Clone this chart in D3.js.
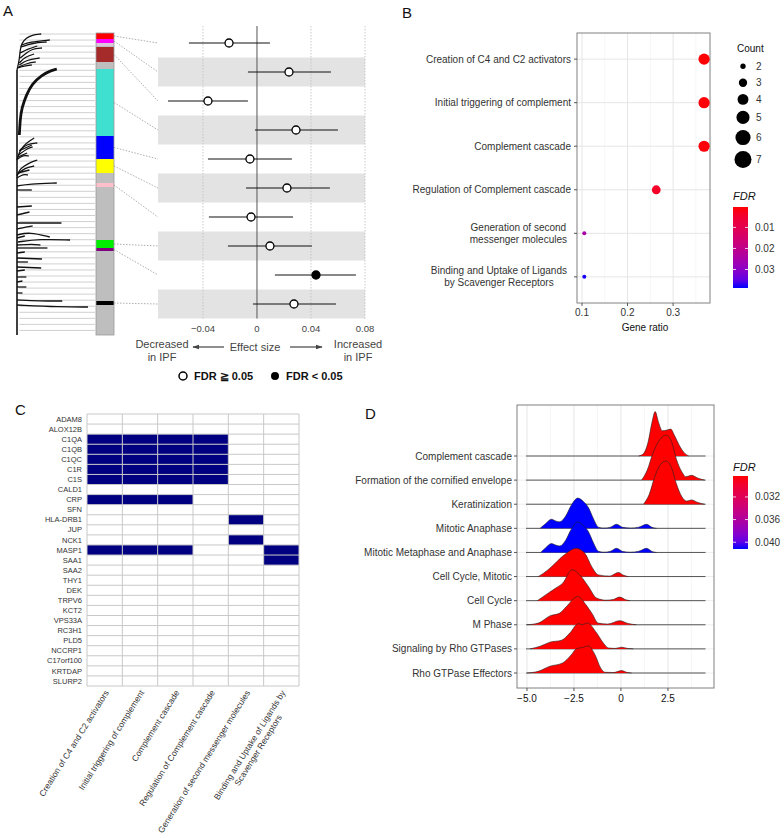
<!DOCTYPE html>
<html>
<head>
<meta charset="utf-8">
<script src="https://cdn.jsdelivr.net/npm/d3@7"></script>
<style>
body { margin: 0; background: #fff; }
svg text { font-family: "Liberation Sans", Arial, sans-serif; }
</style>
</head>
<body>
<svg id="fig" width="784" height="838"></svg>
<script>
// ---------------- data ----------------
// A: WGCNA modules along the dendrogram (size in genes) and forest plot
const moduleColors = ["red", "magenta", "#dcc8dc", "#bebebe", "brown", "#bebebe", "turquoise", "blue", "yellow", "#bebebe", "pink", "#bebebe", "#00ee00", "purple", "#bebebe", "black", "#bebebe"];
const moduleSizes = [6, 4, 3, 1, 15, 7, 67, 23, 14, 10, 4, 53, 8, 3, 50, 4, 30];
const forestModules = [0, 1, 4, 6, 7, 8, 10, 12, 13, 15];
const effectSize = [-0.0207, 0.0237, -0.0363, 0.0289, -0.0052, 0.0222, -0.0044, 0.0096, 0.0437, 0.0274];
const ciLow = [-0.0504, -0.0067, -0.0659, -0.0015, -0.0363, -0.0081, -0.0356, -0.0215, 0.0133, -0.0030];
const ciHigh = [0.0096, 0.0548, -0.0067, 0.0600, 0.0259, 0.0540, 0.0267, 0.0407, 0.0733, 0.0585];
const fdrSignificant = [false, false, false, false, false, false, false, false, true, false];
const forestTicks = [-0.04, 0, 0.04, 0.08];
// dendrogram branches: [height, leaf position]
const branches = [
  [[1.0, 37], [0.97, 27], [0.96, 17], [0.94, 10], [0.88, 5], [0.81, 2], [0.69, 1]],
  [[0.94, 12], [0.84, 9], [0.58, 7]],
  [[0.96, 25], [0.88, 20], [0.81, 16], [0.68, 15]],
  [[0.97, 32], [0.88, 27], [0.71, 25]],
  [[0.99, 35], [0.91, 33], [0.81, 32]],
  [[0.96, 20], [0.86, 16], [0.74, 13]],
  [[0.95, 14], [0.8, 10], [0.62, 9]],
  [[0.97, 30], [0.9, 24], [0.78, 21]],
  [[0.98, 34], [0.86, 30], [0.76, 29]],
  [[1.0, 127], [0.97, 119], [0.92, 113], [0.84, 108], [0.78, 105]],
  [[0.95, 117], [0.81, 112]],
  [[0.99, 124], [0.87, 120]],
  [[0.98, 122], [0.86, 115], [0.8, 114]],
  [[0.97, 118], [0.88, 111], [0.74, 110]],
  [[0.99, 126], [0.92, 122], [0.85, 123]],
  [[1.0, 143], [0.97, 137], [0.91, 133], [0.82, 129], [0.74, 127]],
  [[0.99, 140], [0.84, 137]],
  [[0.99, 141], [0.9, 135], [0.78, 133]],
  [[1.0, 145], [0.92, 141], [0.86, 142]],
  [[1.0, 153], [0.84, 151], [0.49, 150]],
  [[1.0, 157], [0.81, 157]],
  [[1.0, 174], [0.81, 173]],
  [[1.0, 182], [0.84, 179]],
  [[1.0, 190], [0.43, 190]],
  [[1.0, 196], [0.88, 194], [0.8, 193]],
  [[1.0, 202], [0.84, 199], [0.58, 204]],
  [[1.0, 205], [0.9, 203]],
  [[0.99, 209], [0.71, 206], [0.32, 207]],
  [[1.0, 212], [0.8, 211], [0.7, 212]],
  [[1.0, 215], [0.61, 215]],
  [[1.0, 220], [0.9, 219]],
  [[1.0, 225], [0.68, 226]],
  [[1.0, 229], [0.86, 229]],
  [[1.0, 234], [0.69, 235]],
  [[1.0, 238], [0.9, 237]],
  [[1.0, 244], [0.88, 244]],
  [[1.0, 249], [0.93, 248]],
  [[1.0, 254], [0.88, 254]],
  [[1.0, 260], [0.93, 260]],
  [[1.0, 267], [0.71, 268], [0.42, 268]],
  [[1.0, 272], [0.45, 274], [0.09, 274]]
];
const turquoiseBranch = [[0.97, 102], [0.96, 87], [0.94, 75], [0.88, 62], [0.81, 51], [0.68, 42], [0.58, 38], [0.49, 36]];

// B: Reactome enrichment
const pathwaysB = ["Creation of C4 and C2 activators", "Initial triggering of complement", "Complement cascade", "Regulation of Complement cascade", "Generation of second\nmessenger molecules", "Binding and Uptake of Ligands\nby Scavenger Receptors"];
const countB = [7, 7, 7, 5, 2, 2];
const geneRatioB = [0.368, 0.368, 0.368, 0.263, 0.105, 0.105];
const fdrB = [0.0005, 0.0006, 0.0008, 0.004, 0.025, 0.0385];
const countLevels = [2, 3, 4, 5, 6, 7];
const fdrTicksB = [0.01, 0.02, 0.03];

// C: gene membership
const genesC = ["ADAM8", "ALOX12B", "C1QA", "C1QB", "C1QC", "C1R", "C1S", "CALD1", "CRP", "SFN", "HLA-DRB1", "JUP", "NCK1", "MASP1", "SAA1", "SAA2", "THY1", "DEK", "TRPV6", "KCT2", "VPS33A", "RC3H1", "PLD5", "NCCRP1", "C17orf100", "KRTDAP", "SLURP2"];
const pathwaysC = ["Creation of C4 and C2 activators", "Initial triggering of complement", "Complement cascade", "Regulation of Complement cascade", "Generation of second messenger molecules", "Binding and Uptake of Ligands by\nScavenger Receptors"];
const genesC4C2 = ["C1QA", "C1QB", "C1QC", "C1R", "C1S", "CRP", "MASP1"];
const genesInitial = ["C1QA", "C1QB", "C1QC", "C1R", "C1S", "CRP", "MASP1"];
const genesCascade = ["C1QA", "C1QB", "C1QC", "C1R", "C1S", "CRP", "MASP1"];
const genesRegulation = ["C1QA", "C1QB", "C1QC", "C1R", "C1S"];
const genesMessenger = ["HLA-DRB1", "NCK1"];
const genesScavenger = ["MASP1", "SAA1"];

// D: ridge densities [x, density]
const pathwaysD = ["Complement cascade", "Formation of the cornified envelope", "Keratinization", "Mitotic Anaphase", "Mitotic Metaphase and Anaphase", "Cell Cycle, Mitotic", "Cell Cycle", "M Phase", "Signaling by Rho GTPases", "Rho GTPase Effectors"];
const fdrD = [0.0283, 0.0283, 0.0283, 0.0412, 0.0412, 0.0283, 0.0283, 0.0283, 0.0283, 0.0283];
const densitiesD = [
  [[0.95, 0], [1.2, 0.1], [1.45, 0.6], [1.65, 1.4], [1.82, 1.85], [2.0, 1.4], [2.2, 1.05], [2.45, 1.08], [2.65, 1.12], [2.85, 0.85], [3.1, 0.45], [3.35, 0.15], [3.6, 0]],
  [[1.1, 0], [1.4, 0.42], [1.7, 1.12], [2.05, 1.67], [2.4, 1.87], [2.7, 1.58], [2.95, 0.87], [3.25, 0.33], [3.45, 0.14], [3.75, 0.2], [4.1, 0.08], [4.45, 0]],
  [[1.2, 0], [1.5, 0.4], [1.8, 1.15], [2.1, 1.65], [2.4, 1.8], [2.7, 1.5], [2.95, 0.85], [3.25, 0.3], [3.5, 0.13], [3.75, 0.18], [4.1, 0.07], [4.45, 0]],
  [[-4.3, 0], [-4.0, 0.2], [-3.7, 0.38], [-3.45, 0.3], [-3.25, 0.27], [-2.95, 0.5], [-2.65, 0.95], [-2.3, 1.26], [-2.0, 1.12], [-1.74, 0.88], [-1.45, 0.38], [-1.2, 0.05], [-0.9, 0.01], [-0.55, 0.05], [-0.23, 0.17], [0.1, 0.04], [0.5, 0.01], [0.95, 0.05], [1.37, 0.17], [1.65, 0.04], [1.9, 0]],
  [[-4.27, 0], [-4.0, 0.2], [-3.7, 0.37], [-3.45, 0.3], [-3.25, 0.27], [-2.95, 0.5], [-2.65, 0.96], [-2.3, 1.27], [-2.0, 1.12], [-1.74, 0.88], [-1.45, 0.38], [-1.2, 0.05], [-0.9, 0.01], [-0.55, 0.05], [-0.23, 0.17], [0.1, 0.04], [0.5, 0.01], [0.95, 0.05], [1.37, 0.17], [1.65, 0.04], [1.9, 0]],
  [[-4.4, 0], [-4.1, 0.15], [-3.78, 0.35], [-3.5, 0.55], [-3.25, 0.75], [-2.9, 0.97], [-2.4, 1.18], [-1.92, 0.97], [-1.56, 0.42], [-1.2, 0.07], [-0.6, 0.02], [-0.14, 0.17], [0.15, 0.05], [0.39, 0]],
  [[-4.45, 0], [-3.99, 0.25], [-3.46, 0.53], [-3.1, 0.73], [-2.6, 1.29], [-2.2, 1.08], [-1.74, 0.6], [-1.3, 0.11], [-0.8, 0.02], [-0.4, 0.05], [-0.07, 0.15], [0.25, 0.04], [0.48, 0]],
  [[-5.0, 0], [-4.4, 0.07], [-3.78, 0.37], [-3.25, 0.49], [-2.9, 0.76], [-2.3, 1.18], [-1.86, 0.83], [-1.5, 0.42], [-1.22, 0.07], [-0.7, 0.03], [-0.07, 0.17], [0.4, 0.05], [0.82, 0]],
  [[-4.84, 0], [-4.3, 0.11], [-3.78, 0.28], [-3.16, 0.36], [-2.71, 0.67], [-2.27, 1.05], [-2.04, 1.01], [-1.79, 1.08], [-1.3, 0.67], [-0.94, 0.25], [-0.67, 0.04], [-0.3, 0.02], [0.04, 0.07], [0.35, 0.02], [0.66, 0]],
  [[-5.0, 0], [-4.4, 0.07], [-3.78, 0.28], [-3.1, 0.42], [-2.64, 0.76], [-2.37, 1.01], [-2.0, 1.07], [-1.74, 1.13], [-1.38, 0.76], [-1.08, 0.21], [-0.85, 0.03], [-0.4, 0.02], [0.04, 0.1], [0.3, 0.03], [0.57, 0]]
];
const ridgeRange = [-5.05, 4.5];
const ticksD = [-5, -2.5, 0, 2.5];
const fdrTicksD = [0.032, 0.036, 0.040];

// ---------------- drawing ----------------
const svg = d3.select("#fig");
const defs = svg.append("defs");
const textCol = "#333";

function panelTag(label, x, y) {
  svg.append("text").attr("x", x).attr("y", y).attr("font-size", 15).attr("fill", "#111").text(label);
}

// ===== Panel A =====
panelTag("A", 3, 16);
const gA = svg.append("g");
const total = d3.sum(moduleSizes);
const modY = d3.scaleLinear().domain([0, total]).range([33, 335]);
const modStart = [0, ...d3.cumsum(moduleSizes)];
const hX = d3.scaleLinear().domain([1, 0]).range([17, 95]);

// leaf lines
gA.selectAll(".leaf")
  .data(d3.range(1, total, 6.05))
  .enter().append("line")
  .attr("x1", hX(0.97)).attr("x2", hX(0))
  .attr("y1", d => modY(d)).attr("y2", d => modY(d))
  .attr("stroke", "#c4c4c4").attr("stroke-width", 0.8);

// trunk + branches
const branchLine = d3.line().x(d => hX(d[0])).y(d => modY(d[1])).curve(d3.curveBasis);
gA.append("line")
  .attr("x1", hX(1)).attr("x2", hX(1))
  .attr("y1", modY(37)).attr("y2", modY(total))
  .attr("stroke", "#111").attr("stroke-width", 1.6);
gA.selectAll(".branch")
  .data(branches)
  .enter().append("path")
  .attr("d", branchLine)
  .attr("fill", "none").attr("stroke", "#111").attr("stroke-width", 1.3);
gA.append("path")
  .attr("d", branchLine(turquoiseBranch))
  .attr("fill", "none").attr("stroke", "#111").attr("stroke-width", 2.8);

// module colour bar
gA.selectAll(".mod")
  .data(moduleSizes)
  .enter().append("rect")
  .attr("x", 96).attr("width", 18)
  .attr("y", (d, i) => modY(modStart[i]))
  .attr("height", (d, i) => modY(modStart[i] + d) - modY(modStart[i]))
  .attr("fill", (d, i) => moduleColors[i]);
gA.append("rect").attr("x", 96).attr("y", modY(0)).attr("width", 18).attr("height", modY(total) - modY(0))
  .attr("fill", "none").attr("stroke", "#999").attr("stroke-width", 0.8);

// forest plot
const xA = d3.scaleLinear().domain([-0.0733, 0.08]).range([158, 365]);
const rowA = d3.scaleBand().domain(d3.range(effectSize.length)).range([28.5, 318.5]);
const rowMid = i => rowA(i) + rowA.bandwidth() / 2;

gA.selectAll(".band")
  .data(effectSize.map((d, i) => i).filter(i => i % 2 === 1))
  .enter().append("rect")
  .attr("x", xA.range()[0]).attr("width", xA.range()[1] - xA.range()[0])
  .attr("y", i => rowA(i)).attr("height", rowA.bandwidth())
  .attr("fill", "#e3e3e3");

// connectors
gA.selectAll(".conn")
  .data(forestModules)
  .enter().append("line")
  .attr("x1", 114).attr("y1", m => modY(modStart[m] + moduleSizes[m] / 2))
  .attr("x2", xA.range()[0]).attr("y2", (m, i) => rowMid(i))
  .attr("stroke", "#999").attr("stroke-width", 0.8).attr("stroke-dasharray", "1.5,1.5");

gA.selectAll(".grid")
  .data(forestTicks)
  .enter().append("line")
  .attr("x1", d => xA(d)).attr("x2", d => xA(d))
  .attr("y1", 26).attr("y2", 318.5)
  .attr("stroke", d => d === 0 ? "#555" : "#bdbdbd")
  .attr("stroke-width", d => d === 0 ? 1 : 0.8)
  .attr("stroke-dasharray", d => d === 0 ? null : "1.5,1.5");

gA.selectAll(".ci")
  .data(effectSize)
  .enter().append("line")
  .attr("x1", (d, i) => xA(ciLow[i])).attr("x2", (d, i) => xA(ciHigh[i]))
  .attr("y1", (d, i) => rowMid(i)).attr("y2", (d, i) => rowMid(i))
  .attr("stroke", "#111").attr("stroke-width", 1);
gA.selectAll(".pt")
  .data(effectSize)
  .enter().append("circle")
  .attr("cx", d => xA(d)).attr("cy", (d, i) => rowMid(i)).attr("r", 4)
  .attr("fill", (d, i) => fdrSignificant[i] ? "#000" : "#fff")
  .attr("stroke", "#000").attr("stroke-width", 1.3);

gA.selectAll(".tickA")
  .data(forestTicks)
  .enter().append("text")
  .attr("x", d => xA(d)).attr("y", 332)
  .attr("text-anchor", "middle").attr("font-size", 9.5).attr("fill", "#444")
  .text(d => d === 0 ? "0" : d3.format(".2f")(d));

// arrows & annotation
defs.append("marker").attr("id", "arr").attr("viewBox", "0 0 10 10").attr("refX", 9).attr("refY", 5)
  .attr("markerWidth", 6).attr("markerHeight", 6).attr("orient", "auto-start-reverse")
  .append("path").attr("d", "M0,1.5 L10,5 L0,8.5 Z").attr("fill", "#444");
gA.append("line").attr("x1", 224).attr("x2", 193).attr("y1", 347).attr("y2", 347)
  .attr("stroke", "#444").attr("stroke-width", 1.2).attr("marker-end", "url(#arr)");
gA.append("line").attr("x1", 290).attr("x2", 322).attr("y1", 347).attr("y2", 347)
  .attr("stroke", "#444").attr("stroke-width", 1.2).attr("marker-end", "url(#arr)");
const annA = [["Decreased", 162, 344], ["in IPF", 162, 357], ["Effect size", 255, 347], ["Increased", 358, 344], ["in IPF", 358, 357]];
gA.selectAll(".ann")
  .data(annA)
  .enter().append("text")
  .attr("x", d => d[1]).attr("y", d => d[2]).attr("dy", "0.35em")
  .attr("text-anchor", "middle").attr("font-size", 11).attr("fill", "#444")
  .text(d => d[0]);
gA.append("circle").attr("cx", 183).attr("cy", 376).attr("r", 4).attr("fill", "#fff").attr("stroke", "#000").attr("stroke-width", 1.5);
gA.append("text").attr("x", 194).attr("y", 376).attr("dy", "0.35em").attr("font-size", 11).attr("font-weight", "bold").attr("fill", "#111").text("FDR ≧ 0.05");
gA.append("circle").attr("cx", 275).attr("cy", 376).attr("r", 4).attr("fill", "#000");
gA.append("text").attr("x", 286).attr("y", 376).attr("dy", "0.35em").attr("font-size", 11).attr("font-weight", "bold").attr("fill", "#111").text("FDR < 0.05");

// ===== Panel B =====
panelTag("B", 402, 18);
const gB = svg.append("g");
const xB = d3.scaleLinear().domain([0.089, 0.381]).range([577, 710]);
const yB = d3.scalePoint().domain(pathwaysB).range([33, 303]).padding(0.6);
const rB = d3.scaleSqrt().domain([2, 7]).range([2, 5.6]);
const colB = d3.scaleLinear().domain([0.0003, 0.0388]).range(["red", "blue"]).interpolate(d3.interpolateLab);

gB.selectAll(".minor").data([0.15, 0.25, 0.35]).enter().append("line")
  .attr("x1", d => xB(d)).attr("x2", d => xB(d)).attr("y1", 33).attr("y2", 303)
  .attr("stroke", "#f2f2f2").attr("stroke-width", 0.7);
gB.selectAll(".major").data([0.1, 0.2, 0.3]).enter().append("line")
  .attr("x1", d => xB(d)).attr("x2", d => xB(d)).attr("y1", 33).attr("y2", 303)
  .attr("stroke", "#e6e6e6").attr("stroke-width", 1);
gB.selectAll(".hgrid").data(pathwaysB).enter().append("line")
  .attr("x1", 577).attr("x2", 710).attr("y1", d => yB(d)).attr("y2", d => yB(d))
  .attr("stroke", "#e6e6e6").attr("stroke-width", 1);
gB.append("rect").attr("x", 577).attr("y", 33).attr("width", 133).attr("height", 270)
  .attr("fill", "none").attr("stroke", "#808080").attr("stroke-width", 1);

gB.selectAll(".dot").data(pathwaysB).enter().append("circle")
  .attr("cx", (d, i) => xB(geneRatioB[i])).attr("cy", d => yB(d))
  .attr("r", (d, i) => rB(countB[i]))
  .attr("fill", (d, i) => colB(fdrB[i]));

// y ticks + labels
gB.selectAll(".ytick").data(pathwaysB).enter().append("line")
  .attr("x1", 574).attr("x2", 577).attr("y1", d => yB(d)).attr("y2", d => yB(d))
  .attr("stroke", "#555");
pathwaysB.forEach(name => {
  const lines = name.split("\n");
  const t = gB.append("text").attr("font-size", 10).attr("fill", textCol).attr("text-anchor", "middle");
  const spans = lines.map((l, j) => t.append("tspan").text(l)
    .attr("y", yB(name) + (j - (lines.length - 1) / 2) * 12).attr("dy", "0.35em"));
  const w = d3.max(spans, s => s.node().getComputedTextLength());
  const right = lines.length > 1 ? 567 : 571;
  spans.forEach(s => s.attr("x", right - w / 2));
});
// x ticks
gB.selectAll(".xtick").data([0.1, 0.2, 0.3]).enter().append("line")
  .attr("x1", d => xB(d)).attr("x2", d => xB(d)).attr("y1", 303).attr("y2", 306).attr("stroke", "#555");
gB.selectAll(".xlab").data([0.1, 0.2, 0.3]).enter().append("text")
  .attr("x", d => xB(d)).attr("y", 316).attr("text-anchor", "middle").attr("font-size", 10).attr("fill", textCol)
  .text(d => d3.format(".1f")(d));
gB.append("text").attr("x", 645).attr("y", 331).attr("text-anchor", "middle").attr("font-size", 10).attr("fill", "#111").text("Gene ratio");

// size legend
const legR = d3.scaleSqrt().domain([1.8, 7]).range([2.3, 8.5]);
gB.append("text").attr("x", 737).attr("y", 52).attr("font-size", 10).attr("fill", "#111").text("Count");
let ky = 58;
countLevels.forEach(c => {
  const h = Math.max(16.5, 2 * legR(c) + 6);
  const cy = ky + h / 2;
  gB.append("circle").attr("cx", 743).attr("cy", cy).attr("r", legR(c)).attr("fill", "#000");
  gB.append("text").attr("x", 756).attr("y", cy).attr("dy", "0.35em").attr("font-size", 10).attr("fill", textCol).text(c);
  ky += h;
});

// colour bar legend
function colourBar(g, id, scale, y0, y1, ticks, fmt, titleY) {
  const grad = defs.append("linearGradient").attr("id", id).attr("x1", 0).attr("x2", 0).attr("y1", 0).attr("y2", 1);
  const dom = scale.domain();
  d3.range(0, 1.0001, 0.1).forEach(t => {
    grad.append("stop").attr("offset", t).attr("stop-color", scale(dom[0] + t * (dom[1] - dom[0])));
  });
  const ly = d3.scaleLinear().domain(dom).range([y0, y1]);
  g.append("text").attr("x", 733).attr("y", titleY).attr("font-size", 11).attr("font-style", "italic").attr("fill", "#111").text("FDR");
  g.append("rect").attr("x", 733).attr("y", y0).attr("width", 15).attr("height", y1 - y0).attr("fill", `url(#${id})`);
  ticks.forEach(v => {
    g.append("line").attr("x1", 733).attr("x2", 736).attr("y1", ly(v)).attr("y2", ly(v)).attr("stroke", "#fff").attr("stroke-width", 0.8);
    g.append("line").attr("x1", 745).attr("x2", 748).attr("y1", ly(v)).attr("y2", ly(v)).attr("stroke", "#fff").attr("stroke-width", 0.8);
    g.append("text").attr("x", 755).attr("y", ly(v)).attr("dy", "0.35em").attr("font-size", 10).attr("fill", textCol).text(fmt(v));
  });
}
colourBar(gB, "gradB", colB, 207, 288, fdrTicksB, d3.format(".2f"), 200);

// ===== Panel C =====
panelTag("C", 15, 415);
const gC = svg.append("g");
const xC = d3.scaleBand().domain(pathwaysC).range([87, 299]);
const yC = d3.scaleBand().domain(genesC).range([414, 686]);
const memberLists = [genesC4C2, genesInitial, genesCascade, genesRegulation, genesMessenger, genesScavenger];
const cells = [];
memberLists.forEach((list, i) => list.forEach(g => cells.push({ p: pathwaysC[i], g: g })));

gC.selectAll(".cell").data(cells).enter().append("rect")
  .attr("x", d => xC(d.p)).attr("y", d => yC(d.g))
  .attr("width", xC.bandwidth()).attr("height", yC.bandwidth())
  .attr("fill", "#000080");
gC.selectAll(".hline").data([...genesC.map(g => yC(g)), 686]).enter().append("line")
  .attr("x1", 87).attr("x2", 299).attr("y1", d => d).attr("y2", d => d)
  .attr("stroke", "#c8c8c8").attr("stroke-width", 1);
gC.selectAll(".vline").data([...pathwaysC.map(p => xC(p)), 299]).enter().append("line")
  .attr("x1", d => d).attr("x2", d => d).attr("y1", 414).attr("y2", 686)
  .attr("stroke", "#c8c8c8").attr("stroke-width", 1);

gC.selectAll(".gene").data(genesC).enter().append("text")
  .attr("x", 82).attr("y", d => yC(d) + yC.bandwidth() / 2).attr("dy", "0.35em")
  .attr("text-anchor", "end").attr("font-size", 7.5).attr("fill", textCol).text(d => d);

pathwaysC.forEach(name => {
  const lines = name.split("\n");
  const g = gC.append("g").attr("transform", `translate(${xC(name) + xC.bandwidth() / 2 + 2},691) rotate(-58)`);
  const t = g.append("text").attr("font-size", 8.5).attr("fill", textCol).attr("text-anchor", "middle");
  const spans = lines.map((l, j) => t.append("tspan").text(l).attr("y", j * 10).attr("dy", "0.35em"));
  const w = d3.max(spans, s => s.node().getComputedTextLength());
  spans.forEach(s => s.attr("x", -w / 2));
});

// ===== Panel D =====
panelTag("D", 365, 419);
const gD = svg.append("g");
const xD = d3.scaleLinear().domain([-5.53, 4.95]).range([517, 714]);
const yD = d3.scalePoint().domain(pathwaysD).range([456, 673]);
const hD = d3.scaleLinear().domain([0, 1]).range([0, 24]);
const colD = d3.scaleLinear().domain([0.0283, 0.0412]).range(["red", "blue"]).interpolate(d3.interpolateLab);
const topD = 405, bottomD = 688;

gD.selectAll(".minorD").data([-3.75, -1.25, 1.25, 3.75]).enter().append("line")
  .attr("x1", d => xD(d)).attr("x2", d => xD(d)).attr("y1", topD).attr("y2", bottomD)
  .attr("stroke", "#f2f2f2").attr("stroke-width", 0.7);
gD.selectAll(".majorD").data(ticksD).enter().append("line")
  .attr("x1", d => xD(d)).attr("x2", d => xD(d)).attr("y1", topD).attr("y2", bottomD)
  .attr("stroke", "#e6e6e6").attr("stroke-width", 1);
gD.selectAll(".hgridD").data(pathwaysD).enter().append("line")
  .attr("x1", 517).attr("x2", 714).attr("y1", d => yD(d)).attr("y2", d => yD(d))
  .attr("stroke", "#eeeeee").attr("stroke-width", 1);

const areaD = d3.area().x(d => xD(d[0])).curve(d3.curveMonotoneX);
const lineD = d3.line().x(d => xD(d[0])).curve(d3.curveMonotoneX);
pathwaysD.forEach((name, i) => {
  const base = yD(name);
  const g = gD.append("g");
  g.append("line").attr("x1", xD(ridgeRange[0])).attr("x2", xD(ridgeRange[1]))
    .attr("y1", base).attr("y2", base).attr("stroke", "#555").attr("stroke-width", 1);
  g.append("path").datum(densitiesD[i])
    .attr("d", areaD.y0(base).y1(d => base - hD(d[1])))
    .attr("fill", colD(fdrD[i]));
  g.append("path").datum(densitiesD[i])
    .attr("d", lineD.y(d => base - hD(d[1])))
    .attr("fill", "none").attr("stroke", "#222").attr("stroke-width", 0.6);
});
gD.append("rect").attr("x", 517).attr("y", topD).attr("width", 197).attr("height", bottomD - topD)
  .attr("fill", "none").attr("stroke", "#808080").attr("stroke-width", 1);

gD.selectAll(".ytickD").data(pathwaysD).enter().append("line")
  .attr("x1", 514).attr("x2", 517).attr("y1", d => yD(d)).attr("y2", d => yD(d)).attr("stroke", "#555");
gD.selectAll(".ylabD").data(pathwaysD).enter().append("text")
  .attr("x", 512).attr("y", d => yD(d)).attr("dy", "0.35em")
  .attr("text-anchor", "end").attr("font-size", 10).attr("fill", textCol).text(d => d);
gD.selectAll(".xtickD").data(ticksD).enter().append("line")
  .attr("x1", d => xD(d)).attr("x2", d => xD(d)).attr("y1", bottomD).attr("y2", bottomD + 3).attr("stroke", "#555");
gD.selectAll(".xlabD").data(ticksD).enter().append("text")
  .attr("x", d => xD(d)).attr("y", 702).attr("text-anchor", "middle").attr("font-size", 10).attr("fill", "#111")
  .text(d => d === 0 ? "0" : d3.format(".1f")(d));

colourBar(gD, "gradD", colD, 476, 549, fdrTicksD, d3.format(".3f"), 471);
</script>
</body>
</html>
